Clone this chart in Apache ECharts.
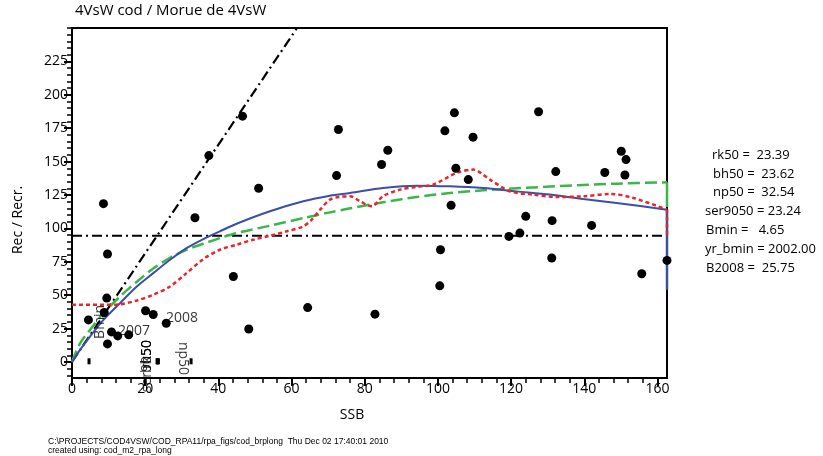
<!DOCTYPE html>
<html><head><meta charset="utf-8">
<script src="https://cdn.jsdelivr.net/npm/echarts@6/dist/echarts.min.js"></script>
<style>html,body{margin:0;padding:0;background:#fff}#c{width:823px;height:456px}</style>
</head><body><div id="c"></div>
<script>
// observed stock-recruit points
const ssb = [4.5,8.6,9.5,8.8,9.7,10.8,12.5,15.5,9.7,20.1,22.2,25.75,33.6,37.4,44.1,46.6,48.3,51,64.4,72.3,72.8,82.8,84.6,86.3,100.5,100.7,101.9,103.6,104.5,104.9,108.3,109.6,119.4,122.4,124,127.5,131.1,131.2,132.2,142,145.6,150.1,151.4,151.1,155.7,162.6];
const rec = [31.5,118.5,47.8,37,80.8,22.5,19.5,20.3,13.5,38.3,35.5,29,108,154.5,64,184,24.7,130,40.7,139.5,174,35.8,147.8,158.5,57,84,173,117.3,186.5,145,136.5,168.3,94,96.5,109,187.3,77.8,105.8,142.5,102.2,141.8,157.7,151.5,140,66,76];
// fitted curves
const blueCurve = [[0,0],[2.2,9],[4.9,19],[8.6,31.5],[13.1,44],[17.7,56.5],[22.2,66.5],[26.8,76.5],[31.3,85.2],[35.9,92],[40.4,97.8],[45,103.5],[54.1,112.8],[63.2,120.3],[70.5,124.5],[76,126.5],[85,130.2],[94.2,132],[103.3,131.5],[112.4,130.2],[121.5,127.7],[130.6,125.3],[139.7,122],[148.8,119],[162.6,114]];
const greenCurve = [[0,0],[2.2,14],[4.9,24],[8.6,36.5],[13.1,49],[17.7,60],[22.2,70],[26.8,78],[31.3,84],[35.9,88.5],[40.4,92.7],[45,96.5],[54.1,102],[63.2,107.7],[70.5,112],[76,115],[85,119.5],[94.2,123.5],[103.3,126.5],[112.4,128.5],[121.5,130],[130.6,131.3],[139.7,132.5],[148.8,133.5],[162.6,134.5]];
const redCurve = [[0,42.8],[8.6,42.8],[13.1,43.2],[17.7,46],[22.2,50.3],[26.8,56.5],[31.3,66.5],[35.9,77],[40.4,84],[45,87.8],[49.5,91.5],[54.1,94.5],[58.7,97.8],[63.2,101.5],[65.5,106.5],[67.8,114],[70.5,121.5],[73,123.5],[76,124],[78.7,120.3],[81.9,116.5],[85,124],[89.6,129],[94.2,131],[98.7,132.8],[105.1,141.5],[109.6,144],[114.2,136.5],[119.7,127.7],[126,125.3],[132.4,123.5],[139.7,124],[147,125.8],[153.4,122.8],[162.6,114]];
const blueEnd = [[162.6,114],[162.6,54]];
const redEnd = [[162.6,114],[162.6,95]];
const greenEnd = [[162.6,134.5],[162.6,116]];
const replLine = [[0,0],[61.5,250]];
const hLine = [[0,94.5],[162.6,94.5]];
// reference points
const refNames = ['Bmin','rk50','bh50','ser9050','np50'];
const refValues = [4.65,23.39,23.62,23.24,32.54];
const yearLabels = [[12.6,23.3,'2007'],[25.7,33,'2008']];
// ticks
const xTicks = [0,20,40,60,80,100,120,140,160];
const xMinor = [];
for (let v = 0; v <= 162; v += 4) xMinor.push(v);
const yTicks = [0,25,50,75,100,125,150,175,200,225];
const yMinor = [];
for (let v = -10; v <= 250; v += 5) yMinor.push(v);
const statLines = ['rk50 =  23.39','bh50 =  23.62','np50 =  32.54','ser9050 = 23.24','Bmin =   4.65','yr_bmin = 2002.00','B2008 =  25.75'];
const statX = [712,713,713,705,706,705,706];

const FONT = '"Open Sans", "Liberation Sans", sans-serif';
const chart = echarts.init(document.getElementById('c'));
const axBase = {type:'value', splitLine:{show:false}};
const option = {
  animation:false,
  backgroundColor:'#fff',
  grid:{left:72, right:156, top:28, bottom:78, show:true, borderColor:'#000', borderWidth:2, backgroundColor:'transparent'},
  xAxis:[
    Object.assign({}, axBase, {min:0, max:162.6, position:'bottom',
      axisLine:{show:true, onZero:false, lineStyle:{color:'#000', width:2}},
      axisTick:{show:true, length:8, customValues:xTicks, lineStyle:{color:'#000', width:2}},
      axisLabel:{customValues:xTicks, color:'#000', fontSize:14, fontFamily:FONT, margin:4}}),
    Object.assign({}, axBase, {min:0, max:162.6, position:'bottom',
      axisLine:{show:false, onZero:false},
      axisTick:{show:true, length:5, customValues:xMinor, lineStyle:{color:'#000', width:1.5}},
      axisLabel:{show:false}})
  ],
  yAxis:[
    Object.assign({}, axBase, {min:-12, max:250, position:'left',
      axisLine:{show:true, onZero:false, lineStyle:{color:'#000', width:2}},
      axisTick:{show:true, length:8, customValues:yTicks, lineStyle:{color:'#000', width:2}},
      axisLabel:{customValues:yTicks, color:'#000', fontSize:14, fontFamily:FONT, margin:4}}),
    Object.assign({}, axBase, {min:-12, max:250, position:'left',
      axisLine:{show:false, onZero:false},
      axisTick:{show:true, length:5, customValues:yMinor, lineStyle:{color:'#000', width:1.5}},
      axisLabel:{show:false}})
  ],
  series:[
    {type:'line', data:replLine, showSymbol:false, symbol:'none', lineStyle:{color:'#000', width:2.2, type:[10,4,2,4]}, z:3},
    {type:'line', data:hLine, showSymbol:false, symbol:'none', lineStyle:{color:'#000', width:2.2, type:[10,4,2,4]}, z:3},
    {type:'line', data:greenCurve, smooth:0.3, symbol:'none', lineStyle:{color:'#3cb54a', width:2.5, type:[12,5]}, z:4},
    {type:'line', data:greenEnd, symbol:'none', lineStyle:{color:'#3cb54a', width:2.5}, z:4},
    {type:'line', data:blueCurve, smooth:0.3, symbol:'none', lineStyle:{color:'#3a4fa8', width:2}, z:5},
    {type:'line', data:blueEnd, symbol:'none', lineStyle:{color:'#3a4fa8', width:2.5}, z:5},
    {type:'line', data:redCurve, smooth:0.3, symbol:'none', lineStyle:{color:'#e8262a', width:2.5, type:[4,3]}, z:6},
    {type:'line', data:redEnd, symbol:'none', lineStyle:{color:'#e8262a', width:2.5, type:[4,3]}, z:6},
    {type:'scatter', data:ssb.map((x,i)=>[x,rec[i]]), symbol:'circle', symbolSize:9, itemStyle:{color:'#000', opacity:1}, clip:false, z:7},
    {type:'scatter', data:refValues.map(v=>[v,0.5]), symbol:'rect', symbolSize:[3,6], itemStyle:{color:'#000', opacity:1}, clip:false, z:7},
    {type:'scatter', symbolSize:0, clip:false, z:8,
      data:yearLabels.map(d=>({value:[d[0],d[1]], label:{formatter:d[2]}})),
      label:{show:true, position:'right', distance:0, color:'#000', fontSize:14, fontFamily:FONT}},
    {type:'scatter', symbolSize:0, clip:false, z:8,
      data:[
        {value:[7.65,42.8], label:{formatter:refNames[0], rotate:90, align:'right'}},
        {value:[20.5,16.5], label:{formatter:refNames[1], rotate:90, align:'right'}},
        {value:[20.5,16.5], label:{formatter:refNames[2], rotate:90, align:'right'}},
        {value:[20.5,16.5], label:{formatter:refNames[3], rotate:90, align:'right'}},
        {value:[30.3,15], label:{formatter:refNames[4], rotate:-90, align:'left'}}
      ],
      label:{show:true, position:'inside', color:'#000', fontSize:14, fontFamily:FONT, verticalAlign:'middle'}}
  ],
  graphic:[
    {type:'text', left:75, top:3, style:{text:'4VsW cod / Morue de 4VsW', font:'15px '+FONT, fill:'#000'}},
    {type:'text', x:18, y:220, rotation:Math.PI/2, style:{text:'Rec / Recr.', font:'14px '+FONT, fill:'#000', align:'center', verticalAlign:'middle'}},
    {type:'text', x:352, y:415, style:{text:'SSB', font:'14px '+FONT, fill:'#000', align:'center', verticalAlign:'middle'}},
    {type:'text', x:48, y:442, style:{text:'C:\\PROJECTS/COD4VSW/COD_RPA11/rpa_figs/cod_brplong  Thu Dec 02 17:40:01 2010', font:'8.5px "Liberation Sans Narrow", "Liberation Sans", sans-serif', fill:'#000', verticalAlign:'middle'}},
    {type:'text', x:48, y:451, style:{text:'created using: cod_m2_rpa_long', font:'8.5px "Liberation Sans Narrow", "Liberation Sans", sans-serif', fill:'#000', verticalAlign:'middle'}}
  ].concat(statLines.map((t,i)=>({type:'text', x:statX[i], y:155+i*18.8, style:{text:t, font:'13px '+FONT, fill:'#000', verticalAlign:'middle'}})))
};
chart.setOption(option);
</script></body></html>
